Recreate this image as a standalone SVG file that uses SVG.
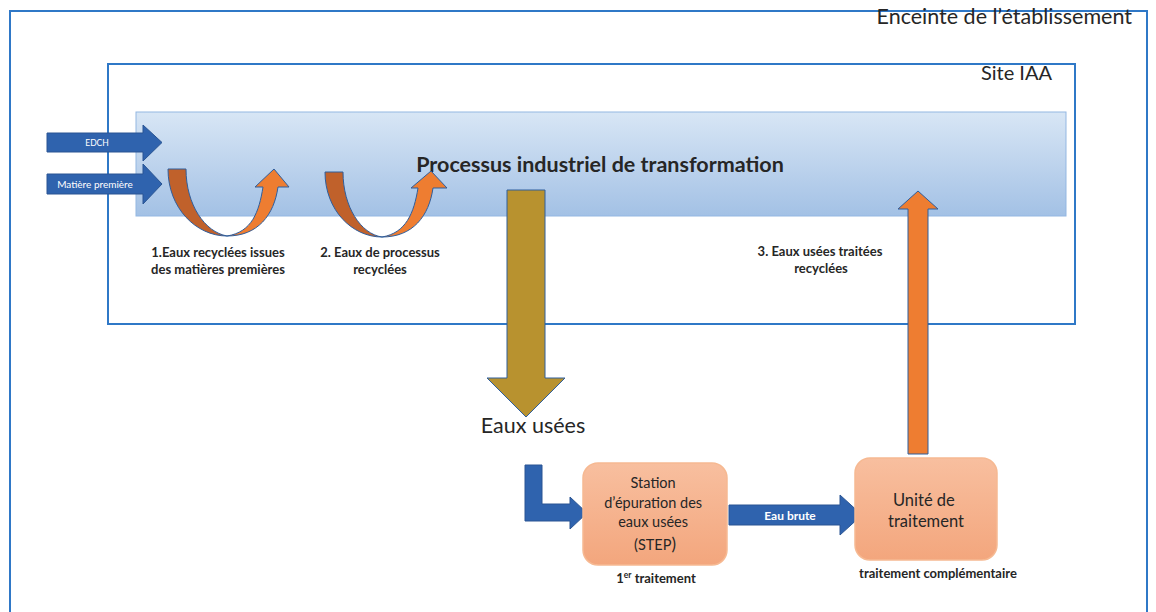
<svg xmlns="http://www.w3.org/2000/svg" width="1156" height="612" viewBox="0 0 1156 612">
  <defs>
    <linearGradient id="procFill" x1="0" y1="0" x2="0" y2="1">
      <stop offset="0" stop-color="#d8e6f5"/>
      <stop offset="1" stop-color="#a3c1e5"/>
    </linearGradient>
    <linearGradient id="boxFill" x1="0" y1="0" x2="0" y2="1">
      <stop offset="0" stop-color="#f8bf9f"/>
      <stop offset="1" stop-color="#f3a67d"/>
    </linearGradient>
  </defs>
  <style>
    .frame { fill: none; stroke: #2f78c7; stroke-width: 2; }
    .blue { fill: #2f63ae; stroke: #2a5593; stroke-width: 1; }
    .u1 { fill: #c0612b; stroke: #2f5e9c; stroke-width: 1; }
    .u2 { fill: #ee7d31; stroke: #2f5e9c; stroke-width: 1; }
    .box { fill: url(#boxFill); stroke: #f6b992; stroke-width: 1.5; }
    .t { font-family: Lato, "Liberation Sans", sans-serif; fill: #262626; }
    .lbl { font-family: Lato, "Liberation Sans", sans-serif; font-weight: bold; font-size: 13px; fill: #262626; text-anchor: middle; }
    .wt { font-family: Lato, "Liberation Sans", sans-serif; fill: #ffffff; text-anchor: middle; }
  </style>

  <!-- enclosures -->
  <g id="enceinte">
    <rect class="frame" x="10" y="11" width="1137" height="620"/>
    <text class="t" x="1132" y="24" font-size="21.5" text-anchor="end">Enceinte de l’établissement</text>
  </g>
  <g id="site-iaa">
    <rect class="frame" x="108" y="64" width="967" height="260"/>
    <text class="t" x="1052" y="80" font-size="20" text-anchor="end">Site IAA</text>
  </g>

  <!-- process band -->
  <g id="processus">
    <rect x="136" y="112" width="930" height="104" fill="url(#procFill)" stroke="#93b7e2" stroke-width="1"/>
    <text class="t" x="600" y="172" font-size="21.5" font-weight="bold" text-anchor="middle" fill="#111">Processus industriel de transformation</text>
  </g>

  <!-- inputs -->
  <g id="edch">
    <path class="blue" d="M47,133 H143 V125 L162,142.5 L143,161 V152 H47 Z"/>
    <text class="wt" x="97" y="146" font-size="8.5">EDCH</text>
  </g>
  <g id="matiere">
    <path class="blue" d="M47,174 H143 V164 L162,184 L143,204 V194 H47 Z"/>
    <text class="wt" x="95" y="187.5" font-size="10">Matière première</text>
  </g>

  <!-- recycling loops -->
  <g id="recyclage-1">
    <path class="u1" d="M168,169 H186 C186,205 205,232 227,236 C196,236 168,208 168,169 Z"/>
    <path class="u2" d="M227,236 C252,232 259,212 263,187 H255 L274,169 L289,187 H278 C274,215 258,236 227,236 Z"/>
    <text class="lbl" x="218" y="257">1.Eaux recyclées issues</text>
    <text class="lbl" x="218" y="274">des matières premières</text>
  </g>
  <g id="recyclage-2">
    <path class="u1" d="M325,172 H343 C343,207 361,234 382,237 C352,237 325,210 325,172 Z"/>
    <path class="u2" d="M382,237 C406,233 414,213 418,188 H411 L431,171 L447,188 H433 C429,216 413,237 382,237 Z"/>
    <text class="lbl" x="380" y="257">2. Eaux de processus</text>
    <text class="lbl" x="380" y="274">recyclées</text>
  </g>

  <!-- wastewater flows -->
  <g id="connecteurs">
    <path d="M507,190 H545 V378 H565 L526,417 L487,378 H507 Z" fill="#b8922f" stroke="#2f5e9c" stroke-width="1"/>
    <path class="blue" d="M525,465 H542 V504 H570 V497 L587,513 L570,529 V521 H525 Z"/>
    <path class="blue" d="M729,505 H840 V495 L862,515 L840,535 V525 H729 Z"/>
    <text class="wt" x="790" y="519.5" font-size="12" font-weight="bold">Eau brute</text>
    <path d="M908,454 V209 H898 L918,191 L938,209 H928 V454 Z" fill="#ee7d31" stroke="#2f5e9c" stroke-width="1"/>
    <text class="lbl" x="820" y="256">3. Eaux usées traitées</text>
    <text class="lbl" x="821" y="273">recyclées</text>
  </g>

  <g id="eaux-usees">
    <text class="t" x="533" y="433" font-size="21.5" text-anchor="middle">Eaux usées</text>
  </g>

  <!-- treatment units -->
  <g id="step">
    <rect class="box" x="583" y="463" width="144" height="102" rx="15"/>
    <text class="t" font-size="14.5" text-anchor="middle">
      <tspan x="655" y="488">Station</tspan>
      <tspan x="655" y="508">d’épuration des</tspan>
      <tspan x="655" y="527">eaux usées</tspan>
      <tspan x="655" y="550">(STEP<tspan font-size="17">)</tspan></tspan>
    </text>
    <text class="lbl" x="656" y="583" font-size="14">1<tspan font-size="8.5" dy="-5.5">er</tspan><tspan dy="5.5"> traitement</tspan></text>
  </g>
  <g id="unite-traitement">
    <rect class="box" x="855" y="458" width="142" height="102" rx="15"/>
    <text class="t" font-size="16.5" text-anchor="middle">
      <tspan x="926" y="506">Unité de</tspan>
      <tspan x="926" y="527">traitement</tspan>
    </text>
    <text class="lbl" x="938" y="578" font-size="12.5">traitement complémentaire</text>
  </g>
</svg>
